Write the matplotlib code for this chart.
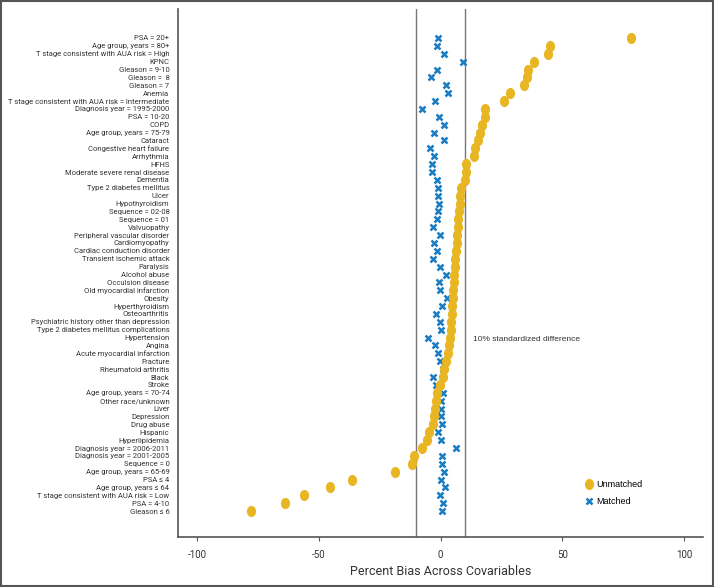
import numpy as np
import matplotlib
matplotlib.use('Agg')
import matplotlib.pyplot as plt
from matplotlib.path import Path
from matplotlib.patches import Rectangle

# covariables, top to bottom
labels = ['PSA = 20+', 'Age group, years = 80+', 'T stage consistent with AUA risk = High',
          'KPNC', 'Gleason = 9-10', 'Gleason =  8', 'Gleason = 7', 'Anemia',
          'T stage consistent with AUA risk = Intermediate', 'Diagnosis year = 1995-2000',
          'PSA = 10-20', 'COPD', 'Age group, years = 75-79', 'Cataract',
          'Congestive heart failure', 'Arrhythmia', 'HFHS', 'Moderate severe renal disease',
          'Dementia', 'Type 2 diabetes mellitus', 'Ulcer', 'Hypothyroidism',
          'Sequence = 02-08', 'Sequence = 01', 'Valvuopathy', 'Peripheral vascular disorder',
          'Cardiomyopathy', 'Cardiac conduction disorder', 'Transient ischemic attack',
          'Paralysis', 'Alcohol abuse', 'Occulsion disease', 'Old myocardial infarction',
          'Obesity', 'Hyperthyroidism', 'Osteoarthritis',
          'Psychiatric history other than depression',
          'Type 2 diabetes mellitus complications', 'Hypertension', 'Angina',
          'Acute myocardial infarction', 'Fracture', 'Rheumatoid arthritis', 'Black',
          'Stroke', 'Age group, years = 70-74', 'Other race/unknown', 'Liver',
          'Depression', 'Drug abuse', 'Hispanic', 'Hyperlipidemia',
          'Diagnosis year = 2006-2011', 'Diagnosis year = 2001-2005', 'Sequence = 0',
          'Age group, years = 65-69', 'PSA \u2264 4', 'Age group, years \u2264 64',
          'T stage consistent with AUA risk = Low', 'PSA = 4-10', 'Gleason \u2264 6']

unmatched = [78.3, 45.1, 44.1, 38.5, 36.1, 35.7, 34.5, 28.6, 26.0, 18.3,
             18.2, 17.0, 16.3, 15.6, 14.2, 13.8, 10.5, 10.5, 10.0, 8.5,
             8.2, 7.8, 7.5, 7.2, 7.0, 6.8, 6.6, 6.3, 6.0, 5.8,
             5.6, 5.4, 5.2, 5.0, 4.8, 4.6, 4.5, 4.3, 4.0, 3.6,
             3.0, 2.3, 1.6, 0.9, -0.2, -1.3, -1.9, -2.3, -2.5, -3.0,
             -4.6, -5.4, -7.6, -10.8, -11.6, -18.6, -36.5, -45.5, -56.0, -63.9,
             -78.0]

matched = [-1.2, -1.6, 1.3, 9.4, -1.3, -3.9, 2.1, 3.1, -2.3, -7.6,
           -0.7, 1.3, -2.7, 1.3, -4.3, -2.5, -3.4, -3.4, -1.6, -1.0,
           -0.9, -0.5, -0.9, -1.6, -3.0, -0.2, -2.5, -1.6, -3.0, -0.2,
           2.3, -0.5, -0.2, 2.5, 0.8, -1.9, -0.2, 0.2, -5.3, -2.1,
           -1.2, -0.2, 1.0, -3.0, -1.9, 0.9, 0.2, 0.1, 0.0, 0.7,
           -0.9, 0.3, 6.4, 0.7, 0.7, 1.4, 0.2, 2.0, -0.2, 0.9,
           0.6]

xticks = [-100, -50, 0, 50, 100]
thresh = 10

yellow = '#E9B623'
blue = '#1A7CC2'
fam = ['Liberation Sans Narrow', 'Roboto', 'DejaVu Sans']
fam2 = ['Liberation Sans', 'DejaVu Sans']
txt = '#333333'

# slightly tall ellipse for the unmatched dots
circ = Path.unit_circle()
oval = Path(circ.vertices * np.array([0.8, 1.0]), circ.codes)

fig = plt.figure(figsize=(7.14, 5.87), dpi=100)
ax = fig.add_axes([0.249, 0.085, 0.736, 0.90])

y = np.arange(len(labels))
ax.axvline(-thresh, color='#777777', lw=1, zorder=1)
ax.axvline(thresh, color='#777777', lw=1, zorder=1)

ax.plot(matched, y, ls='none', marker='x', ms=5, mew=1.8, color=blue,
        label='Matched', zorder=2)
ax.plot(unmatched, y, ls='none', marker=oval, ms=7, color=yellow,
        label='Unmatched', zorder=3)

ax.text(13.5, 38.2, '10% standardized difference', fontsize=6, color=txt,
        family=fam2, va='center')

ax.set_xlim(-108, 108)
ax.set_ylim(len(labels) + 2.3, -3.7)
ax.set_yticks(y)
ax.set_yticklabels(labels, fontsize=6.3, family=fam, color=txt)
ax.tick_params(axis='y', length=0, pad=6)
ax.set_xticks(xticks)
ax.set_xticklabels([str(t) for t in xticks], fontsize=7, family=fam, color=txt)
ax.tick_params(axis='x', length=3, color='#555555', pad=6)
xl = ax.set_xlabel('Percent Bias Across Covariables', fontsize=10.5, family=fam,
                   color=txt, labelpad=4)

for s in ['top', 'right']:
    ax.spines[s].set_visible(False)
for s in ['left', 'bottom']:
    ax.spines[s].set_color('#555555')
    ax.spines[s].set_linewidth(1.2)

# the reference uses a condensed face; shrink to the same widths instead
fig.canvas.draw()
r = fig.canvas.get_renderer()
wmax = max(t.get_window_extent(r).width for t in ax.get_yticklabels())
ysize = 6.3 * 160.0 / wmax
for t in ax.get_yticklabels():
    t.set_fontsize(ysize)
wx = xl.get_window_extent(r).width
xl.set_fontsize(10.5 * 182.0 / wx)

h, l = ax.get_legend_handles_labels()
ax.legend(h[::-1], l[::-1], loc='upper left', bbox_to_anchor=(0.772, 0.108),
          frameon=False, handletextpad=0.2, borderpad=0,
          borderaxespad=0, labelspacing=0.9, handlelength=1.2,
          prop={'family': fam2, 'size': 6.5})

# frame around the whole figure
fig.patches.append(Rectangle((0.001, 0.002), 0.997, 0.996, transform=fig.transFigure,
                             fill=False, edgecolor='#555555', lw=1.5))

fig.savefig('out.png', dpi=100)
